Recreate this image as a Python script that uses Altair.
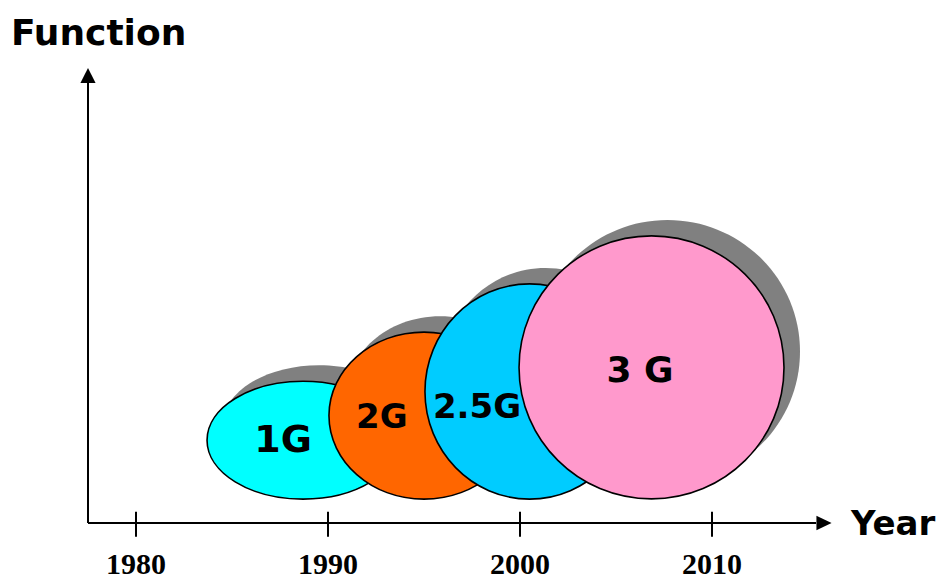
import altair as alt
import pandas as pd

# ---- data ----
generations = ["1G", "2G", "2.5G", "3G"]
center_year = [1988.7, 1995.0, 2000.5, 2006.85]   # ellipse centre (x, years)
center_func = [18.2, 23.6, 28.9, 34.2]            # ellipse centre (y, function units)
span_years = [10.0, 9.9, 10.9, 13.8]              # ellipse width in years
span_func = [25.9, 36.7, 47.3, 57.8]              # ellipse height in function units
label_text = ["1G", "2G", "2.5G", "3 G"]
label_year = [1987.66, 1992.8, 1997.76, 2006.25]
label_func = [15.6, 20.9, 23.1, 31.0]             # text baselines
tick_years = [1980, 1990, 2000, 2010]

# ---- styles ----
fill_colors = ["#00FFFF", "#FF6600", "#00CCFF", "#FF99CC"]
shadow_color = "#808080"
label_sizes = [38, 34, 34, 36]

X_DOMAIN = [1977.5, 2016.25]
X_RANGE = [88, 832]
Y_DOMAIN = [0, 100]
Y_RANGE = [523, 68]
px_per_year = (X_RANGE[1] - X_RANGE[0]) / (X_DOMAIN[1] - X_DOMAIN[0])
px_per_unit = (Y_RANGE[0] - Y_RANGE[1]) / (Y_DOMAIN[1] - Y_DOMAIN[0])
shadow_px = 16

xs = alt.Scale(domain=X_DOMAIN, range=X_RANGE, nice=False, zero=False)
ys = alt.Scale(domain=Y_DOMAIN, range=Y_RANGE, nice=False, zero=False)


def ellipse_path(b):
    k = 0.5523
    return (f"M -1 0 C -1 {-k*b:.4f} {-k:.4f} {-b:.4f} 0 {-b:.4f} "
            f"C {k:.4f} {-b:.4f} 1 {-k*b:.4f} 1 0 "
            f"C 1 {k*b:.4f} {k:.4f} {b:.4f} 0 {b:.4f} "
            f"C {-k:.4f} {b:.4f} -1 {k*b:.4f} -1 0 Z")


rows = []
order = 0
for g, cx, cy, w, h, col in zip(generations, center_year, center_func,
                                 span_years, span_func, fill_colors):
    b = (h * px_per_unit) / (w * px_per_year)
    path = ellipse_path(b)
    rows.append(dict(gen=g, year=cx + shadow_px / px_per_year,
                     func=cy + shadow_px / px_per_unit, w=w, path=path,
                     fill=shadow_color, stroke="transparent", ord=order))
    order += 1
    rows.append(dict(gen=g, year=cx, func=cy, w=w, path=path,
                     fill=col, stroke="black", ord=order))
    order += 1
ell_df = pd.DataFrame(rows)

ellipses = alt.Chart(ell_df).mark_point(filled=True, opacity=1, strokeWidth=1.6).encode(
    x=alt.X("year:Q", scale=xs, axis=None),
    y=alt.Y("func:Q", scale=ys, axis=None),
    shape=alt.Shape("path:N", scale=None, legend=None),
    size=alt.Size("w:Q", scale=alt.Scale(type="pow", exponent=2, domain=[0, 20],
                                          range=[0, (20 * px_per_year) ** 2]), legend=None),
    fill=alt.Fill("fill:N", scale=None, legend=None),
    stroke=alt.Stroke("stroke:N", scale=None, legend=None),
    order=alt.Order("ord:Q"),
)

lab_df = pd.DataFrame(dict(text=label_text, year=label_year, func=label_func, fs=label_sizes))
labels = alt.Chart(lab_df).mark_text(font="DejaVu Sans", fontWeight="bold",
                                     baseline="alphabetic", align="center",
                                     color="black").encode(
    x=alt.X("year:Q", scale=xs, axis=None),
    y=alt.Y("func:Q", scale=ys, axis=None),
    text="text:N",
    size=alt.Size("fs:Q", scale=None, legend=None),
)

# axes
arrow_base_year = X_DOMAIN[0] + (X_RANGE[1] - 16 - X_RANGE[0]) / px_per_year
arrow_base_func = Y_DOMAIN[0] + (Y_RANGE[0] - (Y_RANGE[1] + 15)) / px_per_unit
axis_df = pd.DataFrame(dict(x1=[X_DOMAIN[0], X_DOMAIN[0]], x2=[arrow_base_year, X_DOMAIN[0]],
                            y1=[0, 0], y2=[0, arrow_base_func]))
axes = alt.Chart(axis_df).mark_rule(color="black", strokeWidth=2).encode(
    x=alt.X("x1:Q", scale=xs, axis=None), x2="x2:Q",
    y=alt.Y("y1:Q", scale=ys, axis=None), y2="y2:Q",
)

arrow_df = pd.DataFrame(dict(
    x=[X_DOMAIN[0], X_DOMAIN[0] + (X_RANGE[1] - 8 - X_RANGE[0]) / px_per_year],
    y=[(Y_RANGE[0] - (Y_RANGE[1] + 7.5)) / px_per_unit, 0],
    shape=["M 0 -1 L 1 1 L -1 1 Z", "M 1 0 L -1 -0.95 L -1 0.95 Z"],
))
arrows = alt.Chart(arrow_df).mark_point(filled=True, opacity=1, size=230, color="black").encode(
    x=alt.X("x:Q", scale=xs, axis=None),
    y=alt.Y("y:Q", scale=ys, axis=None),
    shape=alt.Shape("shape:N", scale=None, legend=None),
)

tick_df = pd.DataFrame(dict(year=tick_years, lo=[-3.0] * 4, hi=[2.5] * 4,
                            label=[str(t) for t in tick_years]))
ticks = alt.Chart(tick_df).mark_rule(color="black", strokeWidth=2).encode(
    x=alt.X("year:Q", scale=xs, axis=None),
    y=alt.Y("lo:Q", scale=ys, axis=None), y2="hi:Q",
)
tick_labels = alt.Chart(tick_df).mark_text(font="Liberation Serif", fontWeight="bold",
                                           fontSize=30, baseline="alphabetic",
                                           align="center", dy=51, color="black").encode(
    x=alt.X("year:Q", scale=xs, axis=None),
    y=alt.Y("lo:Q", scale=ys, axis=None),
    text="label:N",
).transform_calculate(lo="0")

year_title = alt.Chart(pd.DataFrame({"x": [X_DOMAIN[1]], "y": [0], "t": ["Year"]})).mark_text(
    font="DejaVu Sans", fontWeight="bold", fontSize=34, align="left",
    baseline="alphabetic", dx=19, dy=12, color="black").encode(
    x=alt.X("x:Q", scale=xs, axis=None), y=alt.Y("y:Q", scale=ys, axis=None), text="t:N")

func_title = alt.Chart(pd.DataFrame({"x": [X_DOMAIN[0]], "y": [Y_DOMAIN[1]], "t": ["Function"]})).mark_text(
    font="DejaVu Sans", fontWeight="bold", fontSize=36, align="left",
    baseline="alphabetic", dx=-77, dy=-23, color="black").encode(
    x=alt.X("x:Q", scale=xs, axis=None), y=alt.Y("y:Q", scale=ys, axis=None), text="t:N")

chart = alt.layer(axes, arrows, ticks, tick_labels, ellipses, labels, year_title, func_title).properties(
    width=946, height=581, autosize=alt.AutoSizeParams(type="none"), padding=0,
    background="white",
).configure_view(stroke=None)

chart.save("out.html", embed_options={"renderer": "svg", "actions": False})
